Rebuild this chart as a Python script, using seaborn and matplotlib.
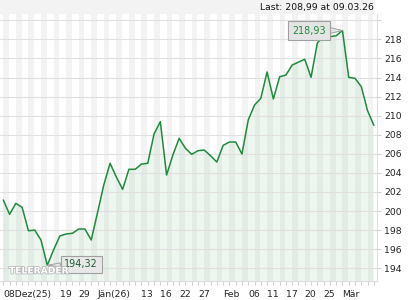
import matplotlib
matplotlib.use("Agg")
import matplotlib.pyplot as plt
import matplotlib.patheffects as pe
from matplotlib.patches import Rectangle
import numpy as np
import pandas as pd
import seaborn as sns

# ---- data ----
dates = ["08.12", "09.12", "10.12", "11.12", "12.12", "15.12", "16.12", "17.12", "18.12", "19.12",
         "22.12", "23.12", "29.12", "30.12", "31.12", "02.01", "05.01", "06.01", "07.01", "08.01",
         "09.01", "12.01", "13.01", "14.01", "15.01", "16.01", "20.01", "21.01", "22.01", "23.01",
         "26.01", "27.01", "28.01", "29.01", "30.01", "02.02", "03.02", "04.02", "05.02", "06.02",
         "09.02", "10.02", "11.02", "12.02", "13.02", "17.02", "18.02", "19.02", "20.02", "23.02",
         "24.02", "25.02", "26.02", "27.02", "02.03", "03.03", "04.03", "05.03", "06.03", "09.03"]
prices = [201.16, 199.66, 200.81, 200.39, 197.94, 198.01, 196.97, 194.32, 195.92, 197.39,
          197.60, 197.67, 198.12, 198.12, 196.97, 199.83, 202.74, 205.01, 203.57, 202.28,
          204.38, 204.38, 204.93, 205.01, 208.08, 209.37, 203.78, 205.88, 207.63, 206.58,
          205.95, 206.33, 206.40, 205.80, 205.14, 206.89, 207.24, 207.24, 205.98, 209.55,
          211.12, 211.82, 214.58, 211.75, 214.08, 214.26, 215.31, 215.62, 215.91, 214.02,
          217.62, 218.35, 218.28, 218.38, 218.93, 214.02, 213.92, 213.04, 210.52, 208.99]
tick_idx = [0, 9, 12, 15, 22, 25, 28, 31, 35, 39, 42, 45, 48, 51, 54]
tick_labels = ["08Dez(25)", "19", "29", "Jän(26)", "13", "16", "22", "27",
               "Feb", "06", "11", "17", "20", "25", "Mär"]
y_ticks = list(range(194, 221, 2))
header_text = "Last: 208,99 at 09.03.26"
max_label = "218,93"
min_label = "194,32"
watermark = "TELERADER"

df = pd.DataFrame({"idx": np.arange(len(prices)), "price": prices, "date": dates})

sns.set_theme(style="white")
plt.rcParams["font.family"] = ["DejaVu Sans"]

W, H = 420, 300
fig = plt.figure(figsize=(W / 100, H / 100), dpi=100)
fig.patch.set_facecolor("white")
ax = fig.add_axes([0 / W, 1 - 281 / H, 377 / W, (281 - 14) / H])
ax.set_facecolor("white")

n = len(prices)
# alternating column stripes
for i in range(0, n, 2):
    ax.axvspan(i, i + 0.9, color="#f3f3f3", lw=0, zorder=0.1)

line_color = "#1f8a3c"
ax.fill_between(df["idx"], df["price"], 180, color=line_color, alpha=0.075, lw=0, zorder=0.3)
sns.lineplot(data=df, x="idx", y="price", ax=ax, color=line_color, linewidth=1.1, zorder=2)

ax.set_xlim(-0.525, n - 0.5)
ax.set_ylim(192.67, 220.66)

# y axis on the right
ax.yaxis.tick_right()
ax.set_yticks(y_ticks)
ax.set_yticklabels([str(v) if v < 220 else "" for v in y_ticks])
ax.tick_params(axis="y", right=True, length=3, width=0.8, color="#d0d0d0",
               labelsize=6.7, labelcolor="#222222", pad=2)

ax.set_xticks(tick_idx)
ax.set_xticklabels(tick_labels, ha="left")
ax.set_xticks(np.arange(n), minor=True)
ax.tick_params(axis="x", which="both", bottom=True, length=3, width=0.8, color="#d0d0d0",
               labelsize=6.7, labelcolor="#222222", pad=3.5)

ax.grid(axis="y", color="#e0e0e0", linewidth=0.8)
ax.grid(axis="x", visible=False)
ax.set_axisbelow("line")

for s in ["left", "top"]:
    ax.spines[s].set_visible(False)
for s in ["right", "bottom"]:
    ax.spines[s].set_color("#dddddd")
    ax.spines[s].set_linewidth(0.8)
ax.set_xlabel("")
ax.set_ylabel("")

# header band
fig.patches.append(Rectangle((0, 1 - 14 / H), 375 / W, 14 / H, transform=fig.transFigure,
                             facecolor="#f3f3f3", edgecolor="none", zorder=0))
fig.text(374 / W, 1 - 7.5 / H, header_text, ha="right", va="center", fontsize=6.7, color="#111111")

# watermark (drawn beneath the min box)
fig.text(9 / W, 1 - 271 / H, watermark, ha="left", va="center", fontsize=6.6,
         fontweight="bold", color="white", zorder=1,
         path_effects=[pe.withStroke(linewidth=1.2, foreground="#b8b8b8")])

# max annotation
imax = int(np.argmax(prices))
ax.annotate(max_label, xy=(imax, prices[imax]), xytext=(48.7, prices[imax]),
            ha="center", va="center", fontsize=6.9, color="#1f8a3c", zorder=5,
            bbox=dict(boxstyle="square,pad=0.42", fc="#e4e4e4", ec="#a0a0a0", lw=0.8),
            arrowprops=dict(arrowstyle="wedge,tail_width=0.6", fc="#e4e4e4", ec="#a0a0a0", lw=0.7,
                            shrinkA=0, shrinkB=0))
# min annotation
imin = int(np.argmin(prices))
ax.annotate(min_label, xy=(imin, prices[imin]), xytext=(12.4, 194.43),
            ha="center", va="center", fontsize=6.9, color="#1d5e2e", zorder=5,
            bbox=dict(boxstyle="square,pad=0.38", fc="#e8e8e8", ec="#a0a0a0", lw=0.8),
            arrowprops=dict(arrowstyle="wedge,tail_width=0.4", fc="#e8e8e8", ec="#a0a0a0", lw=0.7,
                            shrinkA=0, shrinkB=0))

fig.savefig("out.png", dpi=100)
